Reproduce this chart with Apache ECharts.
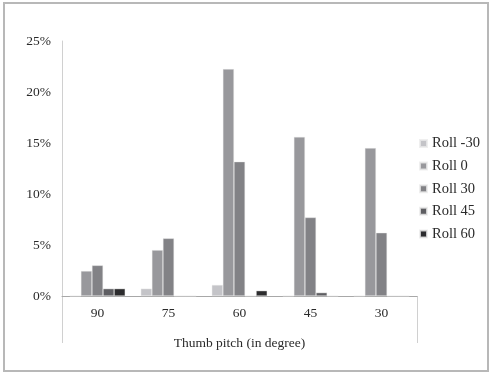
<!DOCTYPE html>
<html>
<head>
<meta charset="utf-8">
<script src="https://cdn.jsdelivr.net/npm/echarts@6/dist/echarts.min.js"></script>
<style>html,body{margin:0;padding:0;background:#fff;}#c{width:491px;height:374px;}</style>
</head>
<body>
<div id="c"></div>
<script>
const categories = ['90', '75', '60', '45', '30'];
const seriesNames = ['Roll -30', 'Roll 0', 'Roll 30', 'Roll 45', 'Roll 60'];
const rollM30 = [0, 0.72, 1.08, 0, 0];
const roll0 = [2.45, 4.5, 22.25, 15.6, 14.5];
const roll30 = [3.0, 5.65, 13.17, 7.7, 6.2];
const roll45 = [0.72, 0, 0, 0.33, 0];
const roll60 = [0.72, 0, 0.52, 0, 0];
const yTicks = [0, 5, 10, 15, 20, 25];
const colors = ['#c4c4c8', '#98989c', '#828286', '#5e5e62', '#2c2c2e'];
const values = [rollM30, roll0, roll30, roll45, roll60];

const chart = echarts.init(document.getElementById('c'), null, {renderer: 'canvas'});
const font = 'Liberation Serif';
chart.setOption({
  animation: false,
  backgroundColor: '#fff',
  grid: {left: 62, top: 41, width: 355, height: 255},
  legend: {
    orient: 'vertical', left: 414, top: 131,
    itemWidth: 7, itemHeight: 7, itemGap: 7.6,
    icon: 'rect',
    textStyle: {fontFamily: font, fontSize: 14.5, color: '#2a2a2a'},
    data: seriesNames
  },
  xAxis: {
    type: 'category', data: categories,
    axisLine: {lineStyle: {color: '#a8a8a8', width: 1}},
    axisTick: {show: false},
    axisLabel: {fontFamily: font, fontSize: 13.5, color: '#2a2a2a', margin: 10},
    name: 'Thumb pitch (in degree)', nameLocation: 'middle', nameGap: 40,
    nameTextStyle: {fontFamily: font, fontSize: 13.5, color: '#2a2a2a'}
  },
  yAxis: {
    type: 'value', min: 0, max: 25, interval: 5,
    axisLine: {show: true, lineStyle: {color: '#d0d0d0', width: 1}},
    axisTick: {show: false},
    splitLine: {show: false},
    axisLabel: {fontFamily: font, fontSize: 13.5, color: '#2a2a2a', margin: 11,
      formatter: v => yTicks.includes(v) ? v + '%' : ''}
  },
  graphic: [
    {type: 'rect', shape: {x: 4, y: 3, width: 484, height: 368}, style: {fill: 'none', stroke: '#b8b8b8', lineWidth: 2}},
    {type: 'line', shape: {x1: 62.5, y1: 296, x2: 62.5, y2: 343}, style: {stroke: '#d0d0d0', lineWidth: 1}},
    {type: 'line', shape: {x1: 417.5, y1: 296, x2: 417.5, y2: 343}, style: {stroke: '#d0d0d0', lineWidth: 1}}
  ],
  series: seriesNames.map((n, i) => ({
    name: n, type: 'bar', data: values[i],
    barGap: 0, barCategoryGap: '22%',
    itemStyle: {color: colors[i], borderColor: 'rgba(235,235,235,0.8)', borderWidth: 0.5}
  }))
});
</script>
</body>
</html>
